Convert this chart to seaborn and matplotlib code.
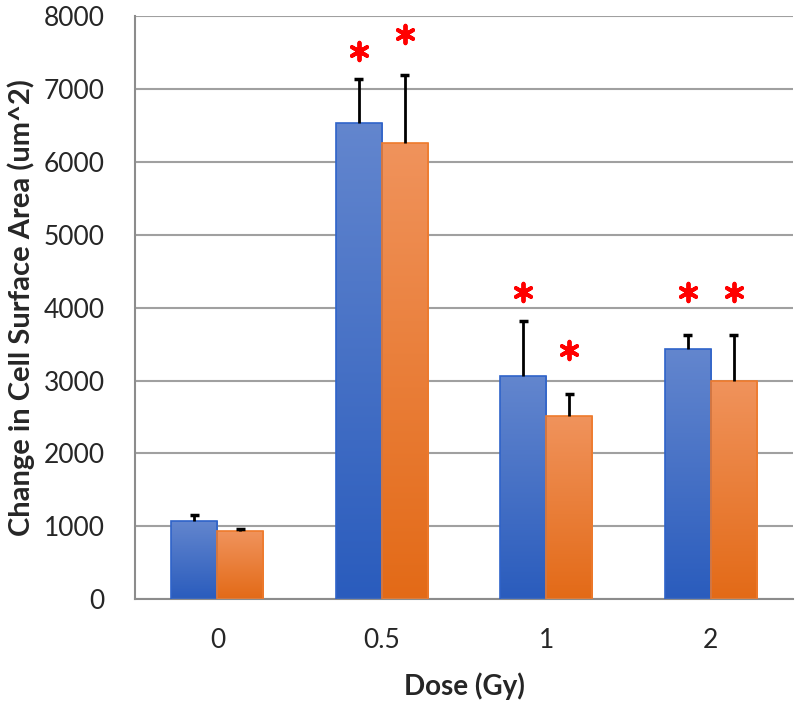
import numpy as np
import pandas as pd
import matplotlib
matplotlib.use("Agg")
import matplotlib.pyplot as plt
from matplotlib.colors import LinearSegmentedColormap
import seaborn as sns

# data
doses = ["0", "0.5", "1", "2"]
groups = ["A", "B"]
blue_vals = [1080, 6540, 3060, 3430]
orange_vals = [930, 6260, 2510, 3000]
blue_err = [70, 600, 760, 200]
orange_err = [30, 940, 300, 630]
# y position of the red asterisks (None = no mark)
blue_star = [None, 7520, 4210, 4210]
orange_star = [None, 7750, 3420, 4210]

df = pd.DataFrame({
    "dose": doses * 2,
    "group": [groups[0]] * 4 + [groups[1]] * 4,
    "value": blue_vals + orange_vals,
})

sns.set_style("white")
plt.rcParams["font.family"] = ["Lato", "DejaVu Sans"]

fig = plt.figure(figsize=(8, 7.05), dpi=100)
ax = fig.add_axes([0.169, 0.150, 0.822, 0.827])

palette = {"A": "#4472C4", "B": "#ED7D31"}
sns.barplot(data=df, x="dose", y="value", hue="group", order=doses,
            hue_order=groups, palette=palette, width=0.56, gap=0,
            legend=False, errorbar=None, ax=ax, zorder=3)

# gradient fill, lighter at top like the Excel style
grads = {
    "A": LinearSegmentedColormap.from_list("b", ["#2A5CBD", "#6386CE"]),
    "B": LinearSegmentedColormap.from_list("o", ["#E36A17", "#F0935C"]),
}
edges = {"A": "#2F63C9", "B": "#EE7A2C"}
grad = np.linspace(0, 1, 256).reshape(-1, 1)
bars = list(ax.patches)
for i, p in enumerate(bars):
    g = groups[i // len(doses)]
    x0, y0 = p.get_x(), p.get_y()
    w, h = p.get_width(), p.get_height()
    p.set_facecolor("none")
    p.set_edgecolor(edges[g])
    p.set_linewidth(1.2)
    im = ax.imshow(grad, cmap=grads[g], origin="lower", aspect="auto",
                   extent=[x0, x0 + w, y0, y0 + h], zorder=2.5)
    im.set_clip_path(p)

# upper-only error bars and significance marks
errs = blue_err + orange_err
stars = blue_star + orange_star
cap = 0.028
for i, p in enumerate(bars):
    xc = p.get_x() + p.get_width() / 2
    top = p.get_height()
    ax.vlines(xc, top, top + errs[i], color="black", linewidth=2, zorder=4)
    ax.hlines(top + errs[i], xc - cap, xc + cap, color="black",
              linewidth=2.5, zorder=4)
    if stars[i] is not None:
        ax.scatter([xc], [stars[i]], marker=(6, 2, 0), s=160,
                   color="#FF0000", linewidths=2.8, zorder=5)

ax.set_ylim(0, 8000)
ax.set_xlim(-0.5, 3.5)
ax.set_yticks(np.arange(0, 8001, 1000))
ax.yaxis.grid(True, color="#A0A0A0", linewidth=1.5, zorder=0)
ax.set_axisbelow(True)

ax.set_xticks(range(len(doses)))
ax.set_xticklabels(doses)
ax.set_xticks(np.arange(-0.5, 4.0, 1), minor=True)
ax.tick_params(axis="x", which="major", length=0, pad=21, labelsize=19)
ax.tick_params(axis="x", which="minor", length=8, width=1.5, color="#8C8C8C",
               direction="out")
ax.tick_params(axis="y", length=7, width=1.5, color="#8C8C8C",
               direction="out", labelsize=19, pad=15)

for s in ["top", "right"]:
    ax.spines[s].set_visible(False)
for s in ["left", "bottom"]:
    ax.spines[s].set_color("#8C8C8C")
    ax.spines[s].set_linewidth(1.5)

ax.set_xlabel("Dose (Gy)", fontsize=20, fontweight="bold", labelpad=14)
ax.set_ylabel("Change in Cell Surface Area (um^2)", fontsize=21,
              fontweight="bold", labelpad=6)

fig.savefig("out.png", dpi=100)
